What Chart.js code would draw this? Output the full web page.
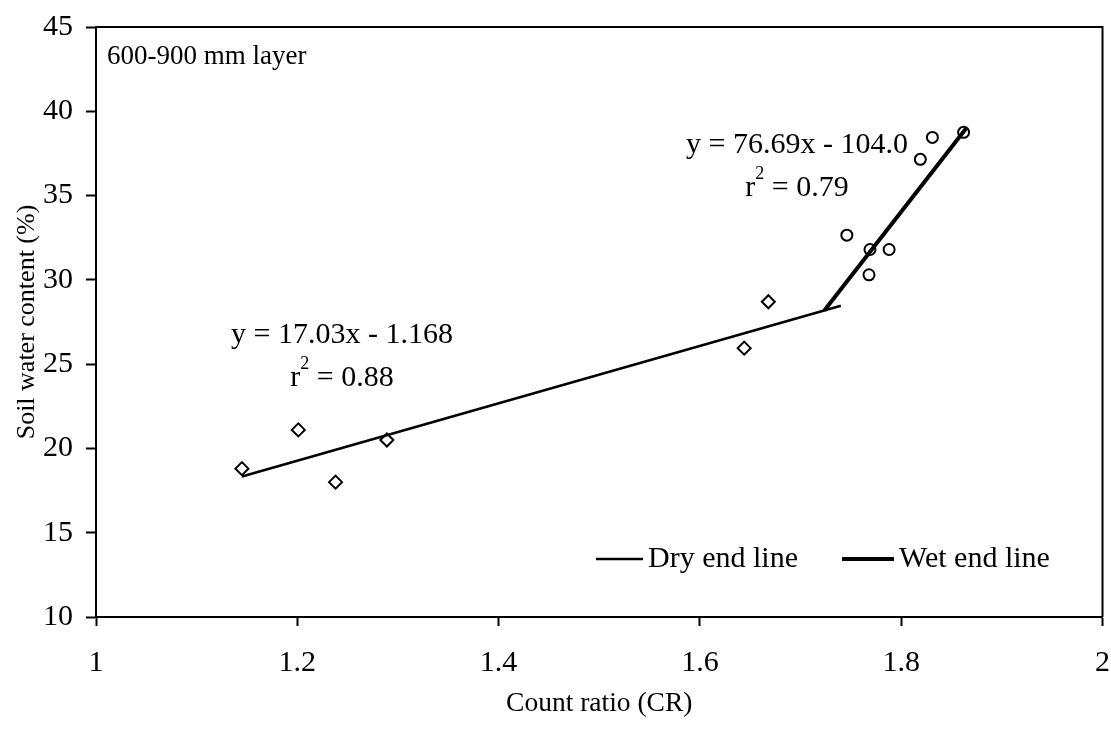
<!DOCTYPE html>
<html>
<head>
<meta charset="utf-8">
<script src="https://cdn.jsdelivr.net/npm/chart.js@4/dist/chart.umd.min.js"></script>
<style>
  html, body { margin: 0; padding: 0; background: #fff; }
  #wrap { width: 1111px; height: 743px; position: relative; }
</style>
</head>
<body>
<div id="wrap"><canvas id="cr"></canvas></div>
<script>
// Dry end observations (diamonds)
const dryCountRatio = [1.145, 1.201, 1.238, 1.289, 1.644, 1.668];
const dryWater      = [18.8, 21.1, 18.0, 20.5, 25.95, 28.7];

// Wet end observations (circles)
const wetCountRatio = [1.746, 1.769, 1.788, 1.768, 1.819, 1.831, 1.862];
const wetWater      = [32.65, 31.8, 31.8, 30.3, 37.15, 38.45, 38.75];

// Fitted calibration lines: y = slope * x + intercept
const dryFit = { slope: 17.03, intercept: -1.168, r2: 0.88, xFrom: 1.145, xTo: 1.74 };
const wetFit = { slope: 76.69, intercept: -104.0, r2: 0.79, xTo: 1.865 };
// wet line starts where it meets the dry line
wetFit.xFrom = (dryFit.intercept - wetFit.intercept) / (wetFit.slope - dryFit.slope);

const xTicks = [1, 1.2, 1.4, 1.6, 1.8, 2];
const yTicks = [10, 15, 20, 25, 30, 35, 40, 45];

const seriesNames = ['Dry end line', 'Wet end line'];
const layerLabel = '600-900 mm layer';

const SERIF = '"Liberation Serif", "Times New Roman", serif';

function fitPoints(f) {
  return [f.xFrom, f.xTo].map(x => ({ x: x, y: f.slope * x + f.intercept }));
}
function zip(xs, ys) { return xs.map((x, i) => ({ x: x, y: ys[i] })); }

function fmtSigned(v, digits) {
  return (v < 0 ? ' - ' : ' + ') + Math.abs(v).toFixed(digits);
}

// annotations: layer label, fit equations, legend, frame
const overlay = {
  id: 'overlay',
  afterDatasetsDraw(chart) {
    const ctx = chart.ctx;
    const a = chart.chartArea;
    ctx.save();

    // frame on top and right
    ctx.strokeStyle = '#000';
    ctx.lineWidth = 2;
    ctx.beginPath();
    ctx.moveTo(a.left, a.top);
    ctx.lineTo(a.right, a.top);
    ctx.lineTo(a.right, a.bottom);
    ctx.stroke();

    ctx.fillStyle = '#000';
    ctx.textBaseline = 'middle';

    // layer label
    ctx.font = '27px ' + SERIF;
    ctx.textAlign = 'left';
    ctx.fillText(layerLabel, a.left + 11, a.top + 30);

    // equation blocks
    const EQ = '30px ' + SERIF, SUP = '18px ' + SERIF;
    function eqBlock(f, cx, cy, digits) {
      ctx.font = EQ;
      ctx.textAlign = 'center';
      const line1 = 'y = ' + f.slope.toFixed(2) + 'x' + fmtSigned(f.intercept, digits);
      ctx.fillText(line1, cx, cy);
      const rest = ' = ' + f.r2.toFixed(2);
      const wr = ctx.measureText('r').width;
      const wRest = ctx.measureText(rest).width;
      ctx.font = SUP;
      const w2 = ctx.measureText('2').width;
      const x0 = cx - (wr + w2 + wRest) / 2;
      const y2 = cy + 43;
      ctx.textAlign = 'left';
      ctx.font = EQ;
      ctx.fillText('r', x0, y2);
      ctx.font = SUP;
      ctx.fillText('2', x0 + wr, y2 - 14);
      ctx.font = EQ;
      ctx.fillText(rest, x0 + wr + w2, y2);
    }
    eqBlock(dryFit, 342, 335, 3);
    eqBlock(wetFit, 797, 145, 1);

    // legend
    const legY = 559;
    const items = [
      { ds: chart.data.datasets[2], x0: 596, x1: 643 },
      { ds: chart.data.datasets[3], x0: 842, x1: 894 }
    ];
    ctx.font = '30px ' + SERIF;
    ctx.textAlign = 'left';
    items.forEach(it => {
      ctx.lineWidth = it.ds.borderWidth;
      ctx.strokeStyle = it.ds.borderColor;
      ctx.beginPath();
      ctx.moveTo(it.x0, legY);
      ctx.lineTo(it.x1, legY);
      ctx.stroke();
      ctx.fillText(it.ds.label, it.x1 + 5, legY);
    });

    ctx.restore();
  }
};

new Chart(document.getElementById('cr'), {
  type: 'scatter',
  data: {
    datasets: [
      {
        label: 'Dry end',
        data: zip(dryCountRatio, dryWater),
        pointStyle: 'rectRot',
        pointRadius: 6.5,
        pointBorderWidth: 2,
        borderColor: '#000',
        backgroundColor: '#fff',
        showLine: false,
        order: 2
      },
      {
        label: 'Wet end',
        data: zip(wetCountRatio, wetWater),
        pointStyle: 'circle',
        pointRadius: 5.5,
        pointBorderWidth: 2,
        borderColor: '#000',
        backgroundColor: '#fff',
        showLine: false,
        order: 2
      },
      {
        label: seriesNames[0],
        data: fitPoints(dryFit),
        showLine: true,
        borderColor: '#000',
        borderWidth: 2.5,
        pointRadius: 0,
        fill: false,
        order: 1
      },
      {
        label: seriesNames[1],
        data: fitPoints(wetFit),
        showLine: true,
        borderColor: '#000',
        borderWidth: 4,
        pointRadius: 0,
        fill: false,
        order: 1
      }
    ]
  },
  options: {
    responsive: true,
    maintainAspectRatio: false,
    animation: false,
    layout: { padding: { top: 27, right: 8, left: 0, bottom: 0 } },
    plugins: {
      legend: { display: false },
      tooltip: { enabled: false }
    },
    scales: {
      x: {
        type: 'linear',
        min: 1,
        max: 2,
        afterFit(scale) { scale.height = 126; scale.paddingLeft = 0; scale.paddingRight = 0; },
        afterBuildTicks(scale) { scale.ticks = xTicks.map(v => ({ value: v })); },
        ticks: {
          color: '#000',
          font: { family: SERIF, size: 30 },
          padding: 19,
          maxRotation: 0,
          callback: v => String(v)
        },
        grid: { drawOnChartArea: false, drawTicks: true, tickLength: 9, tickWidth: 2, color: '#000' },
        border: { display: true, color: '#000', width: 2 },
        title: {
          display: true,
          text: 'Count ratio (CR)',
          color: '#000',
          font: { family: SERIF, size: 27.5 },
          padding: { top: 0, bottom: 23 }
        }
      },
      y: {
        type: 'linear',
        min: 10,
        max: 45,
        afterFit(scale) { scale.width = 96; scale.paddingTop = 0; scale.paddingBottom = 0; },
        afterBuildTicks(scale) { scale.ticks = yTicks.map(v => ({ value: v })); },
        ticks: {
          color: '#000',
          font: { family: SERIF, size: 30 },
          padding: 13,
          callback: v => String(v)
        },
        grid: { drawOnChartArea: false, drawTicks: true, tickLength: 10, tickWidth: 2, color: '#000' },
        border: { display: true, color: '#000', width: 2 },
        title: {
          display: true,
          text: 'Soil water content (%)',
          color: '#000',
          font: { family: SERIF, size: 26 },
          padding: { top: 12, bottom: 0 }
        }
      }
    }
  },
  plugins: [overlay]
});
</script>
</body>
</html>
